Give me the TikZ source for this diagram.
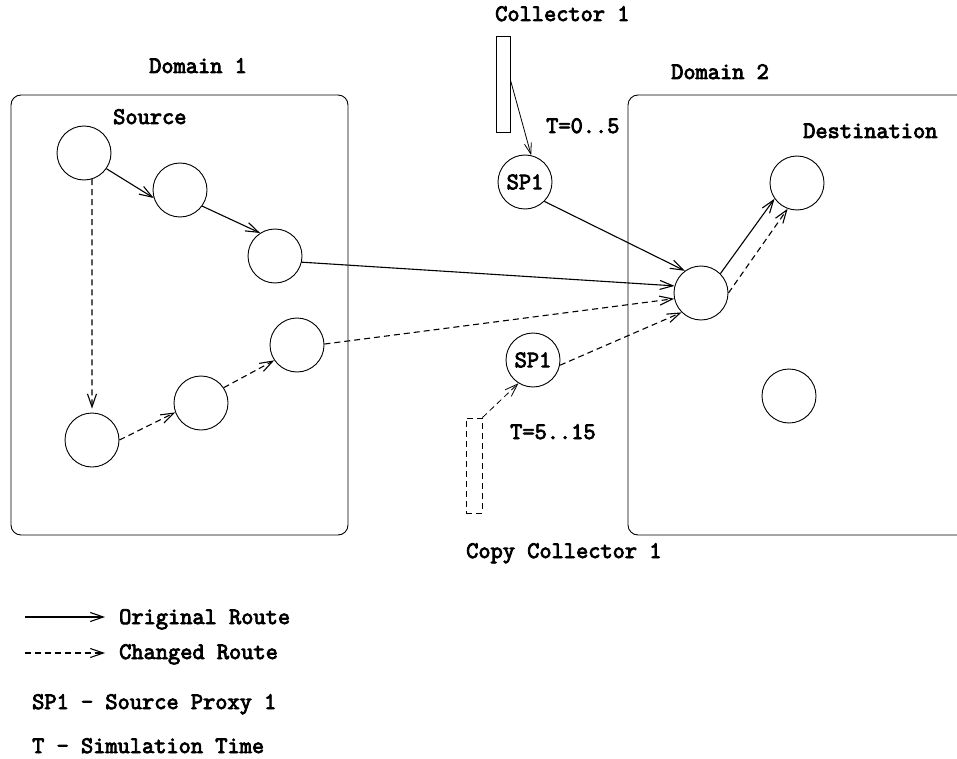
\documentclass[tikz,border=0pt]{standalone}
\usepackage{fontspec}
\newfontfamily\courfont{Latin Modern Mono}[AutoFakeBold=3.5]
\usetikzlibrary{arrows.meta}
\begin{document}
\begin{tikzpicture}[x=1pt,y=-1pt,
  every node/.style={font=\fontsize{23.7}{26}\selectfont\courfont\bfseries, inner sep=0pt},
  nd/.style={circle,draw,line width=0.9pt,minimum size=54pt},
  lbl/.style={anchor=base west},
  route/.style={line width=1.1pt,-{Straight Barb[length=13pt,width=9pt]}},
  chg/.style={route,dash pattern=on 6pt off 4pt},
  thinroute/.style={line width=0.8pt,-{Straight Barb[length=11pt,width=7pt]}},
  dbox/.style={draw,line width=0.9pt,rounded corners=10pt},
  coll/.style={draw,line width=0.9pt,rectangle}]
\clip (0,0) rectangle (957,759);
\fill[white] (0,0) rectangle (957,759);

% domains
\draw[dbox] (11,95) rectangle (348,535);
\draw[dbox] (628,95) rectangle (1000,535);

% labels
\node[lbl] (tcoll) at (495,21) {Collector 1};
\node[lbl] (tdom1) at (149,73) {Domain 1};
\node[lbl] (tdom2) at (671,79) {Domain 2};
\node[lbl] (tsrc) at (113,124) {Source};
\node[lbl] (tdst) at (803,138) {Destination};
\node[lbl] (tt1) at (546,133) {T=0..5};
\node[lbl] (tt2) at (510,439) {T=5..15};
\node[lbl] (tcc) at (466,558) {Copy Collector 1};

% collectors
\node[coll,minimum width=14pt,minimum height=96pt] (c1) at (503,84) {};
\node[coll,dash pattern=on 6pt off 4pt,minimum width=16pt,minimum height=95pt] (c2) at (474,465.5) {};

% circles
\node[nd] (A) at (84,153) {};
\node[nd] (B) at (180,190) {};
\node[nd] (C) at (275,256) {};
\node[nd] (D) at (92,440) {};
\node[nd] (E) at (201,403) {};
\node[nd] (F) at (297,345) {};
\node[nd] (G) at (701,293) {};
\node[nd] (H) at (797,183) {};
\node[nd] (I) at (789,396) {};
\node[nd] (S1) at (525,182) {SP1};
\node[nd] (S2) at (533,360) {SP1};

% original routes
\draw[route] (A.-35) -- (B.197);
\draw[route] (B.-36) -- (C.123);
\draw[route] (C.-13) -- (G.165);
\draw[route] (S1.-45) -- (G.126);
\draw[route] (G.45) -- (H.215);
\draw[thinroute] ([yshift=4pt]c1.east) -- (S1.77);

% changed routes
\draw[chg,shorten >=4pt] (A.-73) -- (D.north);
\draw[chg] (D.0) -- (E.200);
\draw[chg] (E.34) -- (F.214);
\draw[chg] (F.2) -- (G.192);
\draw[chg] (S2.-11) -- (G.225);
\draw[chg] (G.0) -- (H.250);
\draw[chg,line width=0.8pt] (c2.north east) -- (S2.238);

% legend
\coordinate (la1) at (25,617);
\coordinate (la2) at (105,617);
\coordinate (lb1) at (25,653);
\coordinate (lb2) at (105,653);
\draw[route] (la1) -- (la2);
\draw[chg] (lb1) -- (lb2);
\node[lbl] (tor) at (119,624) {Original Route};
\node[lbl] (tch) at (119,659) {Changed Route};
\node[lbl] (tsp) at (32,709) {SP1 - Source Proxy 1};
\node[lbl] (tst) at (32,753) {T - Simulation Time};
\end{tikzpicture}
\end{document}
